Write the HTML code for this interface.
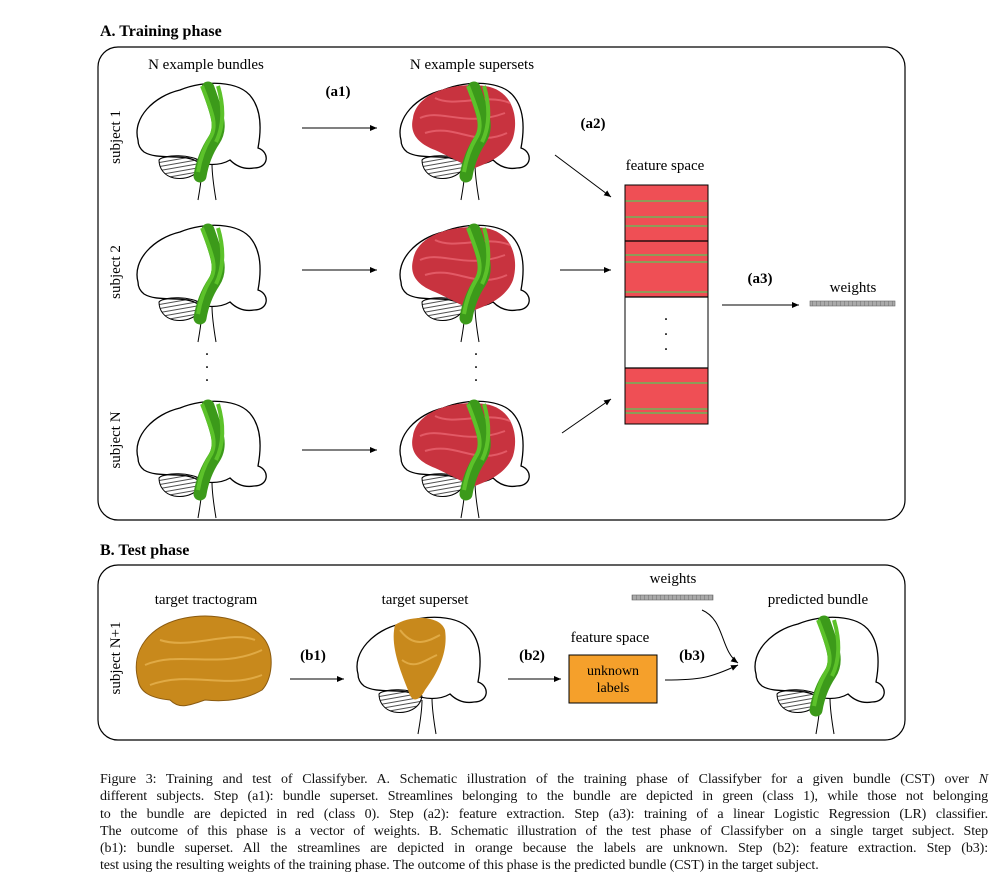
<!DOCTYPE html>
<html><head><meta charset="utf-8"><style>
body{margin:0;background:#fff;width:996px;height:885px;overflow:hidden;font-family:"Liberation Serif",serif}
svg{position:absolute;left:0;top:0}
.cap{position:absolute;left:100px;top:771px;width:888px;font-size:14px;line-height:17.3px;text-align:justify;color:#111;letter-spacing:-0.1px}
.cap span{display:block;text-align-last:justify;white-space:nowrap}
.cap span.last{text-align-last:left}
</style></head><body>
<svg width="996" height="885" viewBox="0 0 996 885" font-family="Liberation Serif, serif">
<defs>
<marker id="ar" markerWidth="8" markerHeight="8" refX="7" refY="3" orient="auto"><path d="M0,0 L7,3 L0,6 Z" fill="#000"/></marker>
<pattern id="hatch" width="4" height="4" patternUnits="userSpaceOnUse" patternTransform="rotate(-10)"><line x1="0" y1="2" x2="4" y2="2" stroke="#222" stroke-width="0.8"/></pattern>
<pattern id="ticks" width="4" height="5" patternUnits="userSpaceOnUse"><rect width="4" height="5" fill="#aaa"/><line x1="0.5" y1="0" x2="0.5" y2="5" stroke="#777" stroke-width="0.6"/></pattern>
<g id="brain">
<path d="M6,60 C0,38 22,16 48,10 C72,0 108,0 120,18 C130,32 129,52 126,68 C138,72 137,88 122,88 C110,90 102,84 98,80 C88,86 72,86 62,80 C48,74 25,80 12,72 C7,68 6,64 6,60 Z" fill="#fff" stroke="#000" stroke-width="1.3"/>
<path d="M27,80 C32,74 60,74 70,82 C68,95 55,100 42,98 C32,96 27,88 27,80 Z" fill="url(#hatch)" stroke="#000" stroke-width="1"/>
<path d="M70,86 C70,98 68,108 66,120 M80,84 C80,96 82,108 84,120" fill="none" stroke="#000" stroke-width="1"/>
</g>
<g id="green">
<path d="M82,12 C92,40 96,52 88,64 C80,76 76,88 74,100" fill="none" stroke="#3c9a1a" stroke-width="13" stroke-linecap="round"/>
<path d="M76,10 C86,36 92,50 84,62 C78,72 74,84 72,96 M92,10 C98,30 98,50 90,66" fill="none" stroke="#5cc22a" stroke-width="4"/>
</g>
<g id="red">
<path d="M18,40 C22,14 60,4 90,8 C118,12 124,40 118,60 C112,76 96,84 80,90 C70,88 58,80 40,72 C24,66 14,56 18,40 Z" fill="#c8333f"/>
<path d="M25,40 C45,30 70,50 110,35 M30,55 C60,45 80,70 112,55 M40,20 C60,30 90,15 115,25" fill="none" stroke="#e25a66" stroke-width="2"/>
</g>
</defs>

<text x="100" y="36" font-size="16" font-weight="bold">A. Training phase</text>
<rect x="98" y="47" width="807" height="473" rx="20" fill="none" stroke="#000" stroke-width="1.2"/>
<text x="206" y="69" font-size="15" text-anchor="middle">N example bundles</text>
<text x="472" y="69" font-size="15" text-anchor="middle">N example supersets</text>
<text x="338" y="96" font-size="15" font-weight="bold" text-anchor="middle">(a1)</text>
<text x="593" y="128" font-size="15" font-weight="bold" text-anchor="middle">(a2)</text>
<text x="760" y="283" font-size="15" font-weight="bold" text-anchor="middle">(a3)</text>
<text transform="translate(120,137) rotate(-90)" font-size="15" text-anchor="middle">subject 1</text>
<text transform="translate(120,272) rotate(-90)" font-size="15" text-anchor="middle">subject 2</text>
<text transform="translate(120,440) rotate(-90)" font-size="15" text-anchor="middle">subject N</text>

<g><use href="#brain" x="132" y="80"/><use href="#green" x="126" y="76"/></g>
<g><use href="#brain" x="132" y="222"/><use href="#green" x="126" y="218"/></g>
<g><use href="#brain" x="132" y="398"/><use href="#green" x="126" y="394"/></g>
<g><use href="#brain" x="395" y="80"/><use href="#red" x="395" y="78"/><use href="#green" x="392" y="76"/></g>
<g><use href="#brain" x="395" y="222"/><use href="#red" x="395" y="220"/><use href="#green" x="392" y="218"/></g>
<g><use href="#brain" x="395" y="398"/><use href="#red" x="395" y="396"/><use href="#green" x="392" y="394"/></g>

<g font-size="16" text-anchor="middle">
<text x="207" y="355">.</text><text x="207" y="368">.</text><text x="207" y="381">.</text>
<text x="476" y="355">.</text><text x="476" y="368">.</text><text x="476" y="381">.</text>
</g>

<g stroke="#000" stroke-width="1" marker-end="url(#ar)">
<line x1="302" y1="128" x2="377" y2="128"/>
<line x1="302" y1="270" x2="377" y2="270"/>
<line x1="302" y1="450" x2="377" y2="450"/>
<line x1="555" y1="155" x2="611" y2="197"/>
<line x1="560" y1="270" x2="611" y2="270"/>
<line x1="562" y1="433" x2="611" y2="399"/>
<line x1="722" y1="305" x2="799" y2="305"/>
</g>

<text x="665" y="170" font-size="15" text-anchor="middle">feature space</text>
<g>
<rect x="625" y="185" width="83" height="112" fill="#ef4f55"/>
<rect x="625" y="368" width="83" height="56" fill="#ef4f55"/>
<g stroke="#6fb65a" stroke-width="1.5">
<line x1="625" y1="201" x2="708" y2="201"/><line x1="625" y1="217" x2="708" y2="217"/><line x1="625" y1="226" x2="708" y2="226"/>
<line x1="625" y1="255" x2="708" y2="255"/><line x1="625" y1="262" x2="708" y2="262"/><line x1="625" y1="292" x2="708" y2="292"/>
<line x1="625" y1="383" x2="708" y2="383"/><line x1="625" y1="409" x2="708" y2="409"/><line x1="625" y1="413" x2="708" y2="413"/>
</g>
<g stroke="#000" stroke-width="1.3"><line x1="625" y1="241" x2="708" y2="241"/><line x1="625" y1="297" x2="708" y2="297"/><line x1="625" y1="368" x2="708" y2="368"/></g>
<rect x="625" y="185" width="83" height="239" fill="none" stroke="#000" stroke-width="1"/>
<g font-size="16" text-anchor="middle"><text x="666" y="320">.</text><text x="666" y="335">.</text><text x="666" y="350">.</text></g>
</g>
<text x="853" y="292" font-size="15" text-anchor="middle">weights</text>
<rect x="810" y="301" width="85" height="5" fill="url(#ticks)" stroke="#666" stroke-width="0.6"/>

<text x="100" y="555" font-size="16" font-weight="bold">B. Test phase</text>
<rect x="98" y="565" width="807" height="175" rx="20" fill="none" stroke="#000" stroke-width="1.2"/>
<text transform="translate(120,658) rotate(-90)" font-size="15" text-anchor="middle">subject N+1</text>
<text x="206" y="604" font-size="15" text-anchor="middle">target tractogram</text>
<text x="425" y="604" font-size="15" text-anchor="middle">target superset</text>
<text x="818" y="604" font-size="15" text-anchor="middle">predicted bundle</text>
<text x="610" y="642" font-size="15" text-anchor="middle">feature space</text>
<text x="673" y="583" font-size="15" text-anchor="middle">weights</text>
<rect x="632" y="595" width="81" height="5" fill="url(#ticks)" stroke="#666" stroke-width="0.6"/>
<text x="313" y="660" font-size="15" font-weight="bold" text-anchor="middle">(b1)</text>
<text x="532" y="660" font-size="15" font-weight="bold" text-anchor="middle">(b2)</text>
<text x="692" y="660" font-size="15" font-weight="bold" text-anchor="middle">(b3)</text>

<g>
<path d="M138,680 C130,650 150,625 185,618 C215,612 250,620 265,640 C275,655 272,680 262,690 C245,700 225,702 205,700 C190,705 180,710 170,700 C150,698 140,692 138,680 Z" fill="#c8891c" stroke="#8a5a10" stroke-width="1"/>
<path d="M145,665 C180,650 220,670 262,650 M150,685 C190,670 225,690 262,675 M160,640 C190,650 230,630 255,640" fill="none" stroke="#e0aa45" stroke-width="2"/>
</g>
<g><use href="#brain" x="352" y="614"/>
<path d="M395,625 C410,615 440,615 445,630 C448,650 440,670 425,690 C420,700 412,705 408,690 C400,670 390,645 395,625 Z" fill="#c8891c"/>
<path d="M400,630 C415,650 430,640 440,635 M402,660 C415,670 425,660 437,655" fill="none" stroke="#e0aa45" stroke-width="2"/></g>
<g><use href="#brain" x="750" y="614"/><use href="#green" x="742" y="610"/></g>

<rect x="569" y="655" width="88" height="48" fill="#f5a02b" stroke="#000" stroke-width="1"/>
<text x="613" y="675" font-size="14" text-anchor="middle"><tspan x="613">unknown</tspan><tspan x="613" dy="17">labels</tspan></text>

<g stroke="#000" stroke-width="1" fill="none" marker-end="url(#ar)">
<line x1="290" y1="679" x2="344" y2="679"/>
<line x1="508" y1="679" x2="561" y2="679"/>
<path d="M665,680 C700,680 710,678 738,665"/>
<path d="M702,610 C725,620 720,650 738,663"/>
</g>
</svg>
<div class="cap">
<span>Figure 3: Training and test of Classifyber. A. Schematic illustration of the training phase of Classifyber for a given bundle (CST) over <i>N</i></span>
<span>different subjects. Step (a1): bundle superset. Streamlines belonging to the bundle are depicted in green (class 1), while those not belonging</span>
<span>to the bundle are depicted in red (class 0). Step (a2): feature extraction. Step (a3): training of a linear Logistic Regression (LR) classifier.</span>
<span>The outcome of this phase is a vector of weights. B. Schematic illustration of the test phase of Classifyber on a single target subject. Step</span>
<span>(b1): bundle superset. All the streamlines are depicted in orange because the labels are unknown. Step (b2): feature extraction. Step (b3):</span>
<span class="last">test using the resulting weights of the training phase. The outcome of this phase is the predicted bundle (CST) in the target subject.</span>
</div>
</body></html>
